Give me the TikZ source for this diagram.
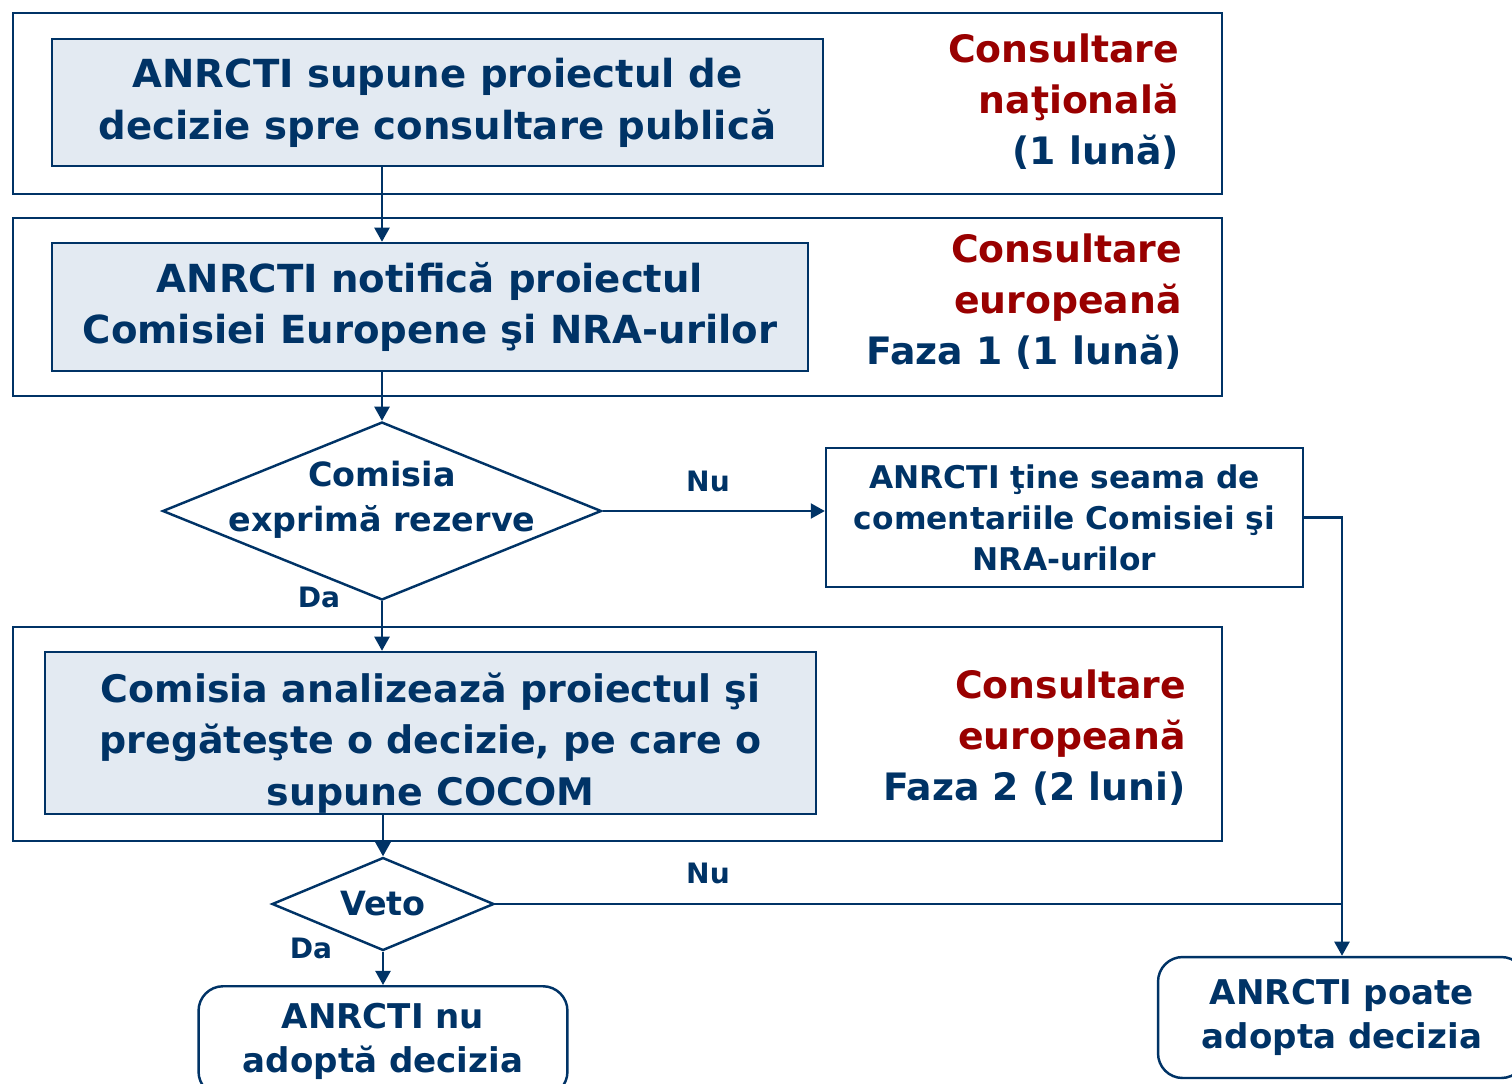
\documentclass[tikz,border=0pt]{standalone}
\usepackage{fontspec}
\setmainfont{DejaVu Sans}
\usetikzlibrary{shapes.geometric,arrows.meta,positioning}
\definecolor{navy}{RGB}{0,51,102}
\definecolor{darkred}{RGB}{153,0,0}
\definecolor{boxfill}{RGB}{227,234,242}

\begin{document}
\begin{tikzpicture}[
        x=0.02cm, y=-0.02cm,
        every node/.style={text=navy, align=center, font=\bfseries},
        frame/.style={draw=navy, line width=1.4pt, minimum width=24.18cm},
        stepbox/.style={draw=navy, fill=boxfill, line width=1.4pt, font=\bfseries\fontsize{22}{29.5}\selectfont},
        phase/.style={anchor=east, align=right, font=\bfseries\fontsize{21.5}{29}\selectfont},
        decision/.style={draw=navy, line width=1.4pt, diamond, inner sep=0pt},
        endbox/.style={draw=navy, line width=1.4pt, rounded corners=14pt, font=\bfseries\fontsize{19.4}{25}\selectfont},
        answer/.style={font=\bfseries\fontsize{16}{19}\selectfont},
        flow/.style={draw=navy, line width=1.4pt, -{Triangle[width=8.5pt,length=8pt]}},
        link/.style={draw=navy, line width=1.4pt},
    ]
    \useasboundingbox (0,0) rectangle (1512,1083);

    % faza nationala
    \node[frame, minimum height=3.62cm](nationala) at (617.5,103.5){};
    \node[stepbox, minimum width=15.42cm, minimum height=2.54cm](supune) at (437.5,102.5)
        {ANRCTI supune proiectul de\\decizie spre consultare publică};
    \node[phase](lblnat) at (1185,102)
        {\textcolor{darkred}{Consultare}\\\textcolor{darkred}{naţională}\\(1 lună)};

    % faza 1
    \node[frame, minimum height=3.56cm](faza1) at (617.5,307){};
    \node[stepbox, minimum width=15.12cm, minimum height=2.56cm](notifica) at (430,307)
        {ANRCTI notifică proiectul\\Comisiei Europene şi NRA-urilor};
    \node[phase](lblf1) at (1188,302)
        {\textcolor{darkred}{Consultare}\\\textcolor{darkred}{europeană}\\Faza 1 (1 lună)};

    \node[decision, minimum width=8.78cm, minimum height=3.56cm,
        label={[yshift=0.22cm, font=\bfseries\fontsize{19}{25.5}\selectfont]center:Comisia\\exprimă rezerve}](rezerve) at (382,511){};
    \node[draw=navy, line width=1.4pt, minimum width=9.54cm, minimum height=2.78cm,
        font=\bfseries\fontsize{17.8}{23.3}\selectfont](tineseama) at (1064.5,517.5)
        {ANRCTI ţine seama de\\comentariile Comisiei şi\\NRA-urilor};

    % faza 2
    \node[frame, minimum height=4.28cm](faza2) at (617.5,734){};
    \node[stepbox, minimum width=15.42cm, minimum height=3.24cm,
        label={[yshift=-0.2cm, font=\bfseries\fontsize{21.6}{29.5}\selectfont]center:Comisia analizează proiectul şi\\pregăteşte o decizie, pe care o\\supune COCOM}](analizeaza) at (430.5,733){};
    \node[phase](lblf2) at (1192,738)
        {\textcolor{darkred}{Consultare}\\\textcolor{darkred}{europeană}\\Faza 2 (2 luni)};

    \node[decision, aspect=2.4, minimum width=4.44cm, minimum height=1.86cm,
        font=\bfseries\fontsize{19}{24}\selectfont](veto) at (383,904){Veto};
    \node[endbox, anchor=north, minimum width=7.38cm, minimum height=2.2cm](nuadopta) at (383,985)
        {ANRCTI nu\\adoptă decizia};
    \node[endbox, minimum width=7.36cm, minimum height=2.42cm](adopta) at (1342,1017.5)
        {ANRCTI poate\\adopta decizia};

    \node[answer](nu1) at (708,481){Nu};
    \node[answer](da1) at (319,597){Da};
    \node[answer](nu2) at (708,873){Nu};
    \node[answer](da2) at (311,948){Da};

    \draw[flow] (supune.south -| rezerve) -- (notifica.north -| rezerve);
    \draw[flow] (notifica.south -| rezerve) -- (rezerve.north);
    \draw[flow] (rezerve.east) -- (rezerve.east -| tineseama.west);
    \draw[flow] (rezerve.south) -- (analizeaza.north -| rezerve);
    \draw[flow] (analizeaza.south -| veto) -- (veto.north);
    \draw[flow] (veto.south) -- (nuadopta.north);
    \draw[flow] (tineseama.east) -| (adopta.north);
    \draw[link] (veto.east) -- (veto.east -| adopta.north);
\end{tikzpicture}
\end{document}
